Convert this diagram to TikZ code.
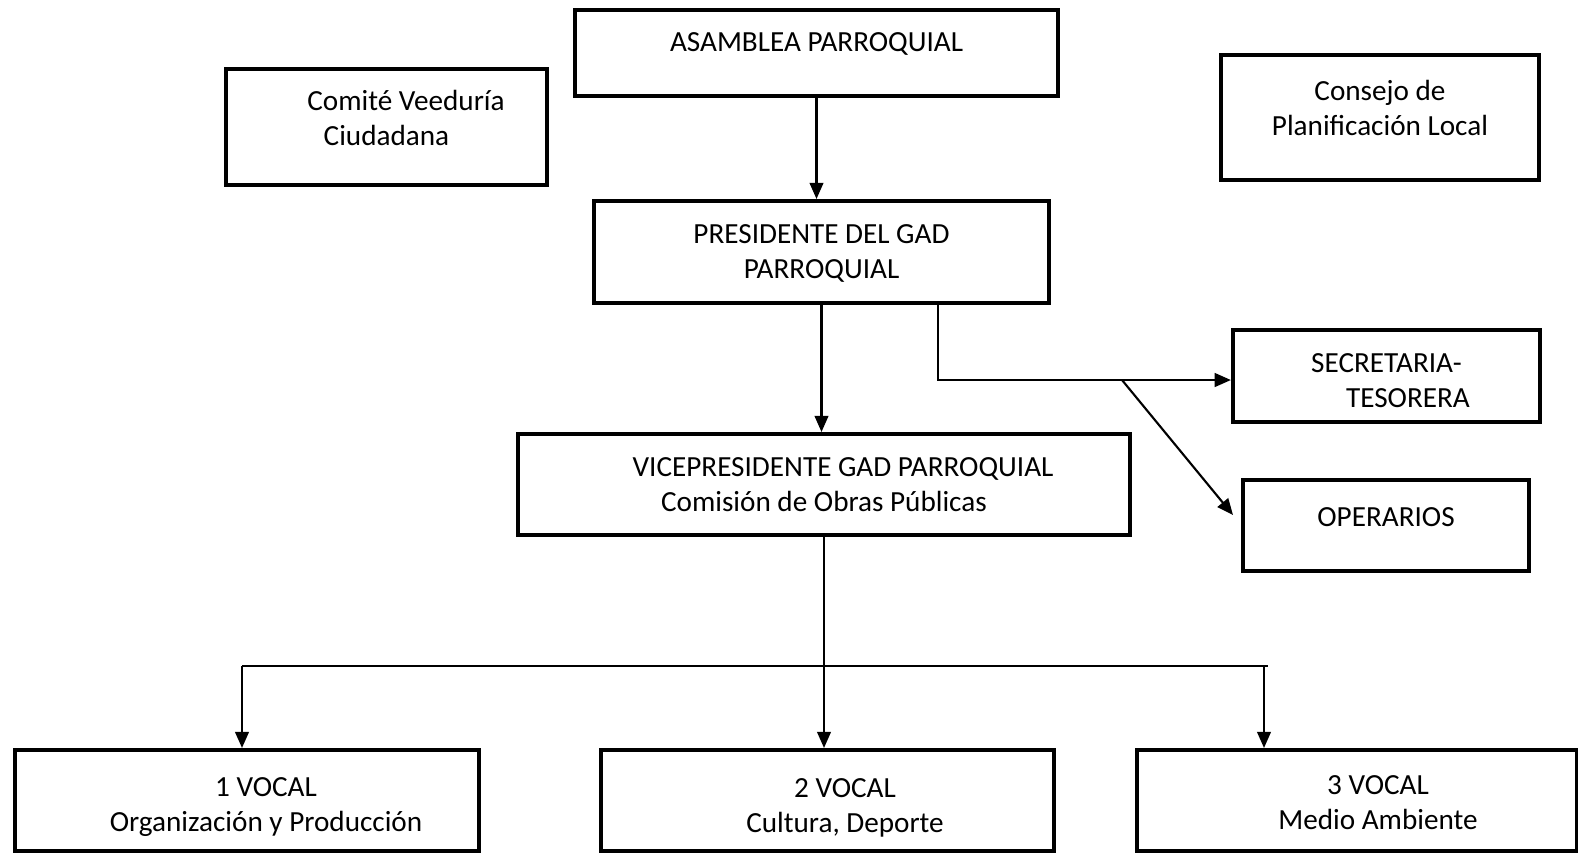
\documentclass[tikz,border=0pt]{standalone}
\usepackage{fontspec}
\setmainfont{Carlito}
\usepackage{tikz}
\usetikzlibrary{arrows.meta}

\begin{document}
\begin{tikzpicture}[x=0.01cm,y=-0.01cm,
	box/.style={draw,line width=1.15pt,inner sep=0pt,align=center,text depth=0pt,
		font=\fontsize{8.3}{10}\selectfont},
	link/.style={line width=0.6pt},
	arr/.style={link,-{Triangle[length=4.6pt,width=3.9pt]}}]
	\useasboundingbox (0,0) rectangle (1578,853);
	% boxes
	\node[box,text height=0pt,text depth=1pt,minimum width=4.83cm,minimum height=0.86cm] (asamblea) at (816.5,53) {ASAMBLEA PARROQUIAL};
	\node[box,text height=10.75pt,minimum width=3.21cm,minimum height=1.16cm] (comite) at (386.5,127) {\hspace*{0.39cm}Comité Veeduría\\ Ciudadana};
	\node[box,text height=10.4pt,minimum width=3.18cm,minimum height=1.25cm] (consejo) at (1380,117.5) {Consejo de\\ Planificación Local};
	\node[box,text height=15.2pt,minimum width=4.55cm,minimum height=1.02cm] (presidente) at (821.5,252) {PRESIDENTE DEL GAD\\ PARROQUIAL};
	\node[box,text height=17.9pt,minimum width=3.07cm,minimum height=0.92cm] (secretaria) at (1386.5,376) {SECRETARIA-\\ \hspace*{0.43cm}TESORERA};
	\node[box,text height=0.5pt,minimum width=2.86cm,minimum height=0.91cm] (operarios) at (1386,525.5) {OPERARIOS};
	\node[box,text height=15.2pt,minimum width=6.12cm,minimum height=1.01cm] (vice) at (824,484.5) {\hspace*{0.38cm}VICEPRESIDENTE GAD PARROQUIAL\\ Comisión de Obras Públicas};
	\node[box,text height=17.5pt,minimum width=4.64cm,minimum height=1.01cm] (vocal1) at (247,800.5) {\hspace*{0.38cm}1 VOCAL\\ \hspace*{0.38cm}Organización y Producción};
	\node[box,text height=18pt,minimum width=4.53cm,minimum height=1.01cm] (vocal2) at (827.5,800.5) {\hspace*{0.35cm}2 VOCAL\\ \hspace*{0.35cm}Cultura, Deporte};
	\node[box,text height=16.3pt,minimum width=4.40cm,minimum height=1.01cm] (vocal3) at (1357,800.5) {\hspace*{0.42cm}3 VOCAL\\ \hspace*{0.42cm}Medio Ambiente};
	% connectors
	\coordinate (split) at (1122,380);
	\coordinate (optip) at (1233,515);
	\coordinate (busL) at (242,666);
	\coordinate (busR) at (1268,666);
	\coordinate (busV) at (1264,666);
	\draw[arr] (asamblea.south) -- (asamblea.south |- presidente.north);
	\draw[arr] (presidente.south) -- (presidente.south |- vice.north);
	\draw[link] (presidente.south -| 938,0) |- (split);
	\draw[arr] (split) -- (split -| secretaria.west);
	\draw[arr] (split) -- (optip);
	\draw[arr] (vice.south) -- (vice.south |- vocal2.north);
	\draw[link] (busL) -- (busR);
	\draw[arr] (busL) -- (busL |- vocal1.north);
	\draw[arr] (busV) -- (busV |- vocal3.north);
\end{tikzpicture}
\end{document}
